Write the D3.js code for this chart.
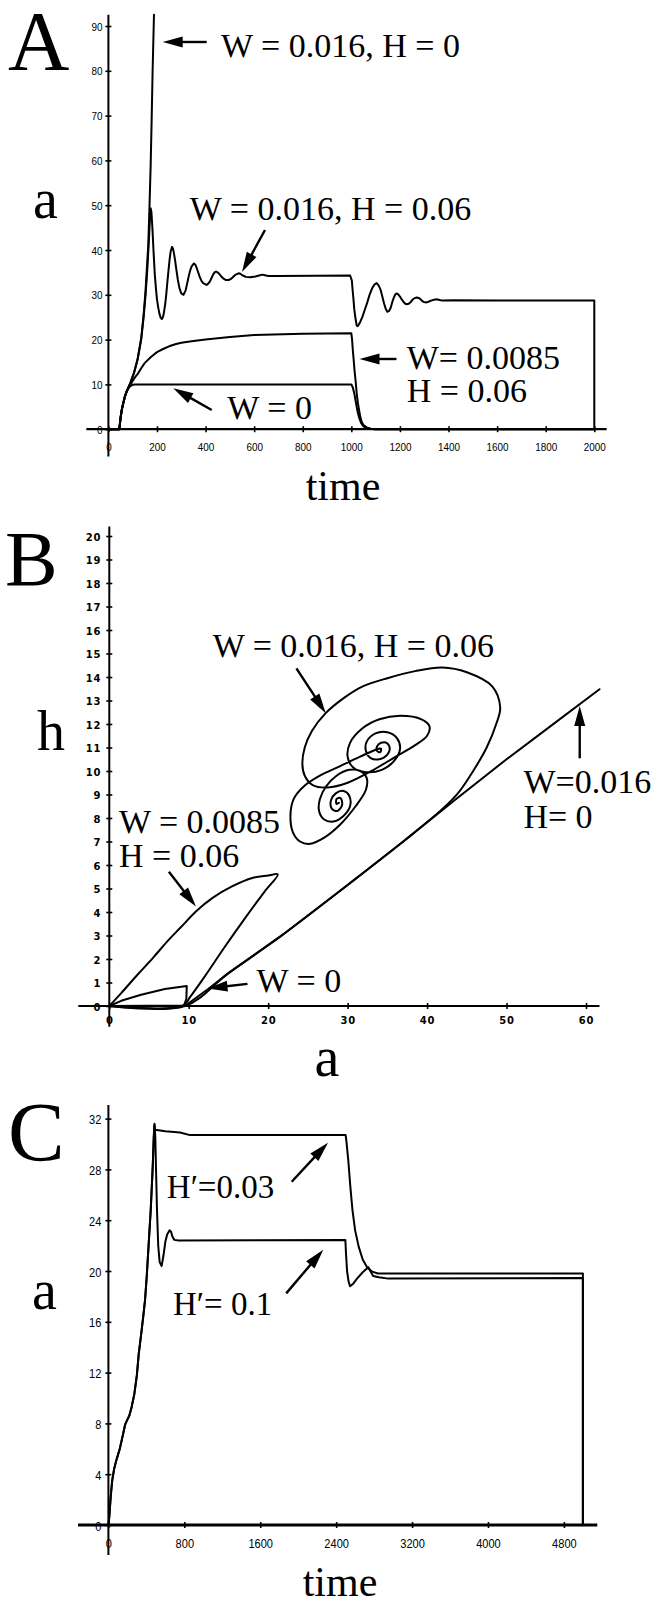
<!DOCTYPE html>
<html>
<head>
<meta charset="utf-8">
<script src="https://cdn.jsdelivr.net/npm/d3@7"></script>
<style>
  html, body { margin: 0; padding: 0; background: #fff; }
  svg { display: block; }
</style>
</head>
<body>
<svg id="fig" width="654" height="1602"></svg>
<script>
// ---------- Panel A: activity a versus time ----------
const ticksA_x = [0, 200, 400, 600, 800, 1000, 1200, 1400, 1600, 1800, 2000];
const ticksA_y = [0, 10, 20, 30, 40, 50, 60, 70, 80, 90];

// [time, a]
const a_W0 = [[0,0],[45,0],[50,2.5],[55,4.3],[61,5.8],[68,7.3],[75,8.4],[82,9.1],[90,9.6],[100,9.9],[110,10],[1000,10],[1006,9.3],[1012,8.0],[1017,6.5],[1022,5.0],[1027,3.6],[1033,2.4],[1040,1.4],[1049,0.7],[1060,0.3],[1077,0.1],[1100,0],[2000,0]];
const a_W0085 = [[0,0],[45,0],[50,2.5],[55,4.3],[61,5.8],[68,7.3],[75,8.4],[82,9.2],[90,9.8],[100,10.8],[110,11.6],[120,12.3],[135,13.6],[150,14.8],[175,16.1],[200,17.2],[225,17.9],[250,18.5],[275,18.95],[300,19.3],[350,19.7],[400,20.0],[500,20.6],[600,21.0],[800,21.3],[1000,21.4],[1003,20.0],[1006,17.7],[1010,15.2],[1013,13.2],[1018,10.5],[1022,8.0],[1027,5.8],[1033,3.9],[1037,2.7],[1042,1.7],[1050,0.9],[1063,0.4],[1080,0.1],[1097,0],[2000,0]];
const a_W016_H006 = [[0,0],[45,0],[50,2.5],[55,4.3],[61,5.8],[68,7.3],[75,8.4],[82,9.3],[90,10.3],[105,12.5],[120,15.5],[135,20],[145,25],[153,30],[160,35.5],[166,41.5],[171,47],[174,49.3],[177,48.5],[181,45],[186,39.5],[191,34.5],[196,31.2],[200,29],[205,27.2],[210,25.8],[215,24.9],[220,24.6],[225,25.1],[229,26.2],[234,28],[238,30],[243,33],[248,35.8],[252,37.9],[256,39.6],[262,40.7],[266,40.3],[270,39.2],[275,37.5],[280,35.5],[286,33.3],[292,31.6],[300,30.3],[309,30],[318,31],[324,32.5],[330,34],[336,35.3],[342,36.3],[352,37],[358,36.7],[362,36.2],[369,35.1],[376,34],[383,33.1],[390,32.6],[404,32.2],[411,32.5],[418,33],[425,33.8],[431,34.5],[437,35],[443,35.2],[449,35],[456,34.7],[463,34.2],[470,33.8],[477,33.5],[484,33.3],[495,33.3],[503,33.5],[510,33.8],[517,34.2],[524,34.5],[536,34.8],[543,34.7],[550,34.4],[558,34.2],[566,34],[584,33.9],[605,34.1],[620,34.3],[635,34.5],[648,34.3],[660,34.2],[700,34.2],[995,34.3],[1002,33.2],[1005,31.2],[1009,28.8],[1012,26.8],[1016,25.1],[1022,23.1],[1026,23.0],[1030,23.3],[1037,24.0],[1045,25],[1055,26.6],[1065,28.2],[1075,30.0],[1085,31.4],[1095,32.3],[1104,32.6],[1112,32.1],[1120,31.2],[1128,29.5],[1135,28],[1142,26.8],[1148,26.2],[1155,26.4],[1162,27.1],[1168,28.3],[1175,29.4],[1181,30.1],[1186,30.3],[1193,30.1],[1200,29.6],[1208,28.9],[1215,28.4],[1222,28.0],[1228,27.9],[1236,28.0],[1245,28.4],[1252,28.9],[1258,29.2],[1269,29.4],[1277,29.3],[1285,29],[1292,28.6],[1298,28.4],[1310,28.3],[1320,28.5],[1328,28.7],[1340,28.9],[1351,29],[1363,28.85],[1375,28.7],[1420,28.8],[1600,28.7],[2000,28.7],[2000,0]];
const a_W016_H0 = [[0,0],[45,0],[50,2.5],[55,4.3],[61,5.8],[68,7.3],[75,8.4],[82,9.3],[90,10.3],[105,12.5],[120,15.6],[135,20.3],[145,25.5],[153,31],[159,36.5],[164,41],[169,49.5],[174,59],[178,69],[182,80],[187.6,92.5]];

// ---------- Panel B: phase plane h versus a ----------
const ticksB_x = [0, 10, 20, 30, 40, 50, 60];
const ticksB_y = d3.range(0, 21);

// [a, h]
const h_W016_H0 = [[0,0],[9.5,0],[12.4,0.71],[15,1.4],[21.5,2.95],[30,5.15],[37,7.0],[43.5,8.77],[50,10.5],[55.5,11.9],[61.7,13.48]];
const h_W0 = [[0,0],[1.5,0.22],[4,0.48],[7,0.72],[9.75,0.85],[9.7,0.3],[9.4,0.02],[0,0]];
const h_W0085 = [[0,0],[1.5,0.55],[3.6,1.35],[5.5,2.05],[7.3,2.75],[9,3.35],[11,4.05],[13,4.6],[15.5,5.1],[18,5.45],[20,5.55],[21.2,5.6],[19.5,4.85],[17,3.7],[14.5,2.5],[12,1.25],[10.2,0.4],[9.2,0],[0,0]];
const h_W016_H006 = [[0,0],[9.5,0],[15,1.4],[21.5,2.95],[30,5.15],[37,7.0],[42,8.4],
  [44,9.1],[45.8,10.0],[47.5,11.0],[48.7,12.0],[49.2,12.7],[48.2,13.6],[45,14.2],[41.9,14.4],[38.5,14.25],[35,13.95],[31.9,13.6],[29.5,13.1],[27.2,12.45],[25.5,11.7],[24.6,11.0],[24.3,10.3],[24.6,9.8],[25.6,9.4],[27.5,9.3],[30,9.5],[33,10.0],[36,10.6],[38.5,11.1],[40,11.5],[40.3,11.9],[39.3,12.2],[36.6,12.35],[34,12.2],[31.8,11.8],[30.3,11.2],[30,10.6],[30.7,10.15],[32.3,9.95],[34.3,10.05],[35.9,10.45],[36.6,10.95],[36.2,11.4],[35,11.65],[33.5,11.6],[32.4,11.25],[32.3,10.85],[32.9,10.55],[34,10.5],[35,10.7],[35.3,10.95],[34.9,11.2],[34.2,11.2],[33.7,11.05],[33.7,10.85],[34.1,10.8],[34.2,10.95],[33.9,10.95],
  [31.5,10.6],[29,10.2],[26.5,9.8],[24.5,9.35],[23.2,8.8],[22.8,8.1],[23.1,7.4],[24.0,7.0],[25.3,6.9],[27,7.15],[29,7.7],[31,8.5],[32.3,9.2],[32.4,9.7],[31.6,10.0],[30.2,10.05],[28.6,9.8],[27.3,9.35],[26.5,8.8],[26.4,8.3],[27,7.95],[28.2,7.85],[29.5,8.1],[30.3,8.5],[30.2,8.95],[29.5,9.15],[28.5,9.05],[27.9,8.75],[28.0,8.4],[28.7,8.3],[29.3,8.55],[29.1,8.85],[28.6,8.8],[28.6,8.6],[28.9,8.65]];

// ---------- Panel C: activity a versus time, two H' values ----------
const ticksC_x = [0, 800, 1600, 2400, 3200, 4000, 4800];
const ticksC_y = [0, 4, 8, 12, 16, 20, 24, 28, 32];

// [time, a]
const c_H003 = [[0,0],[10,0.7],[25,2.3],[40,3.5],[60,4.4],[80,5.0],[100,5.5],[120,6.0],[150,7.0],[176,7.9],[200,8.3],[220,8.6],[245,9.3],[273,10.3],[300,11.8],[320,13.5],[345,15.0],[370,16.6],[386,17.7],[405,19.7],[421,21.7],[446,24.8],[467,28.2],[478,30.5],[484,31.5],[492,31.1],[509,31.1],[600,31.0],[755,30.9],[860,30.7],[2500,30.7],[2510,30.1],[2528,28.7],[2550,26.6],[2572,24.8],[2600,23.2],[2638,21.9],[2680,20.9],[2726,20.3],[2780,19.95],[2840,19.8],[5000,19.8],[5000,0]];
const c_H01 = [[0,0],[10,0.7],[25,2.3],[40,3.5],[60,4.4],[80,5.0],[100,5.5],[120,6.0],[150,7.0],[176,7.9],[200,8.3],[220,8.6],[245,9.3],[273,10.3],[300,11.8],[320,13.5],[345,15.0],[370,16.6],[386,17.7],[405,19.7],[421,21.7],[446,24.8],[467,28.2],[478,30.5],[486,31.6],[494,30.6],[502,28],[512,24.8],[525,22],[540,20.7],[561,20.4],[580,21.2],[600,22.3],[620,22.9],[645,23.2],[660,23.1],[675,22.7],[695,22.45],[740,22.4],[2497,22.45],[2503,21.5],[2515,20.0],[2530,19.2],[2546,18.8],[2580,19.0],[2620,19.4],[2680,19.9],[2739,20.3],[2760,20.0],[2790,19.6],[2850,19.5],[2950,19.4],[5000,19.45],[5000,0]];

// ---------- annotations (data coordinates) ----------
const notesA = [
  { text: "W = 0.016, H = 0", at: [463.5, 83.15] },
  { text: "W = 0.016, H = 0.06", at: [335, 46.7] },
  { text: "W= 0.0085", at: [1227.8, 13.37] },
  { text: "H = 0.06", at: [1227.8, 6.14] },
  { text: "W = 0", at: [489.4, 2.21] }
];
const arrowsA = [
  { from: [404.6, 86.43], to: [223.5, 86.43] },
  { from: [644.6, 44.46], to: [549.9, 35.09] },
  { from: [1185.8, 15.67], to: [1033.5, 15.67] },
  { from: [425.2, 4.29], to: [267.1, 9.13] }
];
const notesB = [
  { text: "W = 0.016, H = 0.06", at: [13.01, 14.86] },
  { text: "W=0.016", at: [52.12, 9.05] },
  { text: "H= 0", at: [52.12, 7.56] },
  { text: "W = 0.0085", at: [1.21, 7.35] },
  { text: "H = 0.06", at: [1.21, 5.93] },
  { text: "W = 0", at: [18.53, 0.58] }
];
const arrowsB = [
  { from: [23.55, 14.37], to: [27.24, 12.46] },
  { from: [59.21, 10.54], to: [59.21, 12.77] },
  { from: [7.5, 5.71], to: [10.91, 4.23] },
  { from: [17.39, 0.94], to: [12.36, 0.75] }
];
const notesC = [
  { text: "H\u2032=0.03", at: [615.4, 25.72] },
  { text: "H\u2032= 0.1", at: [680.7, 16.54] }
];
const arrowsC = [
  { from: [1931.6, 27.03], to: [2314.1, 30.1] },
  { from: [1873.6, 18.24], to: [2264.6, 21.68] }
];

// ---------- drawing ----------
const SERIF = '"Liberation Serif","Times New Roman",Times,serif';
const svg = d3.select("#fig");
svg.append("rect").attr("width", 654).attr("height", 1602).attr("fill", "#fff");

function drawAxes(g, x, y, o) {
  // horizontal axis
  const gx = g.append("g").attr("transform", `translate(0,${y(0)})`)
    .call(d3.axisBottom(x).tickValues(o.xTicks).tickSize(0).tickFormat(d => String(d)));
  gx.attr("font-family", null).attr("font-size", null);
  gx.select(".domain").remove();
  gx.selectAll(".tick line").attr("y1", -o.tick).attr("y2", o.tick)
    .attr("stroke", "#000").attr("stroke-width", 1.6);
  gx.selectAll(".tick text").attr("y", 0).attr("dy", 0).attr("fill", "#000")
    .attr("text-anchor", "middle")
    .attr("transform", `translate(0,${o.xLabelDy}) scale(${o.sx},1)`)
    .style("font-family", o.tickFamily).style("font-size", o.tickSize + "px")
    .style("font-weight", o.tickWeight).style("letter-spacing", o.tickSpacing + "px");

  // vertical axis
  const gy = g.append("g").attr("transform", `translate(${x(0)},0)`)
    .call(d3.axisLeft(y).tickValues(o.yTicks).tickSize(0).tickFormat(d => String(d)));
  gy.attr("font-family", null).attr("font-size", null);
  gy.select(".domain").remove();
  gy.selectAll(".tick line").attr("x1", -o.tick).attr("x2", o.tick)
    .attr("stroke", "#000").attr("stroke-width", 1.6);
  gy.selectAll(".tick text").attr("x", 0).attr("dy", 0).attr("fill", "#000")
    .attr("text-anchor", "end")
    .attr("transform", `translate(${-o.yLabelDx},${o.yLabelDy}) scale(${o.sx},1)`)
    .style("font-family", o.tickFamily).style("font-size", o.tickSize + "px")
    .style("font-weight", o.tickWeight).style("letter-spacing", o.tickSpacing + "px");

  // axis lines, drawn over the labels
  g.append("line")
    .attr("x1", x(o.xExt[0])).attr("x2", x(o.xExt[1]))
    .attr("y1", y(0)).attr("y2", y(0))
    .attr("stroke", "#000").attr("stroke-width", o.xAxisWidth);
  g.append("line")
    .attr("x1", x(0)).attr("x2", x(0))
    .attr("y1", y(o.yExt[0])).attr("y2", y(o.yExt[1]))
    .attr("stroke", "#000").attr("stroke-width", 2);
}

function drawSeries(g, x, y, series, curve) {
  const line = d3.line().x(d => x(d[0])).y(d => y(d[1])).curve(curve);
  series.forEach(s => {
    g.append("path")
      .attr("d", line(s))
      .attr("fill", "none").attr("stroke", "#000").attr("stroke-width", 2)
      .attr("stroke-linejoin", "round").attr("stroke-linecap", "round");
  });
}

function drawArrows(g, x, y, arrows) {
  const head = 20, hw = 5.5;
  arrows.forEach(a => {
    const x1 = x(a.from[0]), y1 = y(a.from[1]);
    const x2 = x(a.to[0]), y2 = y(a.to[1]);
    const L = Math.hypot(x2 - x1, y2 - y1);
    const ux = (x2 - x1) / L, uy = (y2 - y1) / L;
    const bx = x2 - ux * head, by = y2 - uy * head;
    g.append("line").attr("x1", x1).attr("y1", y1)
      .attr("x2", bx + ux * 3).attr("y2", by + uy * 3)
      .attr("stroke", "#000").attr("stroke-width", 2.4);
    g.append("path")
      .attr("d", `M${x2},${y2}L${bx - uy * hw},${by + ux * hw}L${bx + uy * hw},${by - ux * hw}Z`)
      .attr("fill", "#000");
  });
}

function drawNotes(g, x, y, notes, size) {
  notes.forEach(d => {
    g.append("text")
      .attr("x", x(d.at[0])).attr("y", y(d.at[1]))
      .style("font-family", SERIF).style("font-size", size + "px")
      .attr("fill", "#000")
      .text(d.text);
  });
}

function label(txt, px, py, size, anchor) {
  svg.append("text").attr("x", px).attr("y", py)
    .attr("text-anchor", anchor || "start")
    .style("font-family", SERIF).style("font-size", size + "px")
    .attr("fill", "#000").text(txt);
}

const narrow = '"Liberation Sans Narrow","Arial Narrow","Liberation Sans",Arial,sans-serif';

// Panel A
{
  const x = d3.scaleLinear().domain([0, 2000]).range([108.4, 594.3]);
  const y = d3.scaleLinear().domain([0, 90]).range([429.2, 26.0]);
  const g = svg.append("g");
  drawAxes(g, x, y, {
    xTicks: ticksA_x, yTicks: ticksA_y, tick: 3,
    xExt: [-91, 2051], yExt: [-6.1, 92.5], xAxisWidth: 2.2,
    xLabelDy: 21.5, yLabelDx: 6, yLabelDy: 4,
    tickFamily: narrow, tickSize: 11, tickWeight: "normal", tickSpacing: 0, sx: 0.9
  });
  drawSeries(g, x, y, [a_W0, a_W0085, a_W016_H006, a_W016_H0], d3.curveLinear);
  drawArrows(g, x, y, arrowsA);
  drawNotes(g, x, y, notesA, 34);
}

// Panel B
{
  const x = d3.scaleLinear().domain([0, 60]).range([109.3, 586.0]);
  const y = d3.scaleLinear().domain([0, 20]).range([1006, 536]);
  const g = svg.append("g");
  drawAxes(g, x, y, {
    xTicks: ticksB_x, yTicks: ticksB_y, tick: 3,
    xExt: [-3.9, 61.7], yExt: [-0.88, 20.4], xAxisWidth: 2.2,
    xLabelDy: 17.5, yLabelDx: 8, yLabelDy: 4,
    tickFamily: '"DejaVu Sans",Verdana,sans-serif', tickSize: 10, tickWeight: "bold", tickSpacing: 0.8, sx: 1
  });
  drawSeries(g, x, y, [h_W016_H0, h_W0], d3.curveLinear);
  drawSeries(g, x, y, [h_W0085, h_W016_H006], d3.curveCatmullRom.alpha(0.5));
  drawArrows(g, x, y, arrowsB);
  drawNotes(g, x, y, notesB, 34);
}

// Panel C
{
  const x = d3.scaleLinear().domain([0, 4800]).range([108.4, 563.9]);
  const y = d3.scaleLinear().domain([0, 32]).range([1525, 1118.6]);
  const g = svg.append("g");
  drawAxes(g, x, y, {
    xTicks: ticksC_x, yTicks: ticksC_y, tick: 3,
    xExt: [-320, 5152], yExt: [-2.36, 33.07], xAxisWidth: 3.2,
    xLabelDy: 23, yLabelDx: 7, yLabelDy: 5,
    tickFamily: narrow, tickSize: 13, tickWeight: "normal", tickSpacing: 0, sx: 0.85
  });
  drawSeries(g, x, y, [c_H003, c_H01], d3.curveLinear);
  drawArrows(g, x, y, arrowsC);
  drawNotes(g, x, y, notesC, 33);
}

// panel letters and axis titles
label("A", 8, 70, 85);
label("a", 33, 218, 56);
label("time", 343, 500, 42, "middle");
label("B", 5, 585, 79);
label("h", 37, 750, 56);
label("a", 327, 1076, 56, "middle");
label("C", 8, 1161, 85);
label("a", 32, 1309, 56);
label("time", 340, 1596, 42, "middle");
</script>
</body>
</html>
